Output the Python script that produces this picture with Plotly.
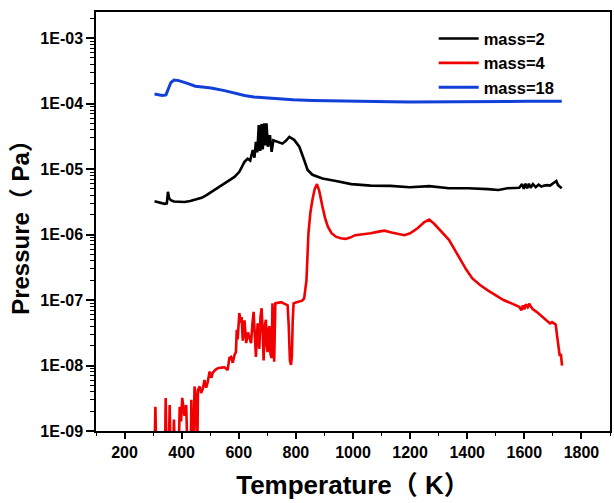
import plotly.graph_objects as go

# Temperature-programmed desorption: partial pressures vs. temperature
t_m2 = [305, 315, 326, 340, 348, 352, 356, 362, 373, 390, 410, 430, 448, 470, 487, 505,
        526, 545, 565, 585, 602, 612, 620, 631, 640, 649, 655, 660, 665, 670, 675, 680,
        684, 689, 693, 697, 702, 709, 715, 721, 736, 753, 765, 777, 794, 812, 829, 841,
        858, 893, 940, 994, 1062, 1131, 1199, 1267, 1336, 1404, 1472, 1509, 1541, 1582,
        1592, 1598, 1604, 1610, 1616, 1622, 1630, 1640, 1650, 1660, 1670, 1680, 1690,
        1704, 1712, 1718, 1731]
p_m2 = [3.24e-6, 3.15e-6, 3.05e-6, 2.95e-6, 3.0e-6, 4.5e-6, 3.6e-6, 3.35e-6, 3.2e-6,
        3.15e-6, 3.15e-6, 3.25e-6, 3.4e-6, 3.65e-6, 4.0e-6, 4.5e-6, 5.1e-6, 5.8e-6,
        6.7e-6, 7.6e-6, 9.1e-6, 1.1e-5, 1.29e-5, 1.44e-5, 1.35e-5, 1.95e-5, 1.5e-5,
        2.6e-5, 1.8e-5, 4.7e-5, 1.9e-5, 4.9e-5, 2.0e-5, 5.0e-5, 2.3e-5, 5.0e-5, 2.2e-5,
        3.3e-5, 1.84e-5, 2.75e-5, 2.6e-5, 2.45e-5, 2.7e-5, 3.1e-5, 2.8e-5, 2.2e-5,
        1.38e-5, 9.7e-6, 8.2e-6, 7.2e-6, 6.6e-6, 5.9e-6, 5.6e-6, 5.55e-6, 5.3e-6,
        5.5e-6, 5.1e-6, 5.1e-6, 4.95e-6, 4.8e-6, 5.1e-6, 5.2e-6, 5.9e-6, 5.0e-6, 6.0e-6,
        5.1e-6, 6.0e-6, 5.2e-6, 5.9e-6, 5.3e-6, 5.8e-6, 5.4e-6, 5.6e-6, 5.7e-6, 5.6e-6,
        6.2e-6, 6.6e-6, 5.7e-6, 5.1e-6]

t_m4 = [300, 305, 308, 311, 330, 342, 344, 347, 355, 358, 361, 370, 373, 376, 390, 393,
        398, 402, 410, 416, 420, 432, 434, 438, 442, 445, 450, 452, 455, 457, 463, 468,
        474, 480, 486, 491, 498, 504, 509, 518, 527, 540, 550, 561, 567, 573, 579, 585,
        590, 593, 596, 602, 607, 610, 614, 620, 626, 632, 638, 643, 648, 652, 656, 660,
        666, 672, 676, 680, 684, 687, 691, 695, 698, 701, 704, 707, 711, 715, 718, 721,
        724, 728, 738, 748, 759, 771, 775, 779, 783, 786, 789, 792, 800, 811, 822, 829,
        837, 844, 851, 858, 866, 874, 882, 892, 902, 912, 925, 940, 957, 974, 990, 1008,
        1030, 1062, 1085, 1110, 1135, 1158, 1180, 1200, 1226, 1250, 1267, 1285, 1310,
        1336, 1357, 1377, 1397, 1418, 1445, 1472, 1500, 1527, 1555, 1582, 1590, 1595,
        1600, 1605, 1612, 1618, 1622, 1630, 1643, 1660, 1677, 1690, 1697, 1704, 1710,
        1714, 1719, 1724, 1728, 1732]
p_m4 = [5e-10, 5e-10, 2.35e-9, 5e-10, 5e-10, 5e-10, 3.2e-9, 5e-10, 5e-10, 2.5e-9, 5e-10,
        5e-10, 1.5e-9, 5e-10, 5e-10, 2.35e-9, 1.4e-9, 3.2e-9, 1.7e-9, 2.5e-9, 5e-10,
        5e-10, 3e-9, 5e-10, 5e-10, 4.8e-9, 3e-9, 5e-10, 5e-10, 4.2e-9, 4.8e-9, 3.8e-9,
        4.4e-9, 6e-9, 4.6e-9, 5.5e-9, 8.1e-9, 6.5e-9, 7.8e-9, 8.6e-9, 9.1e-9, 9.3e-9,
        9.4e-9, 8.5e-9, 1.3e-8, 1.35e-8, 1.1e-8, 1.45e-8, 1.6e-8, 3.5e-8, 2.5e-8, 6.3e-8,
        4.5e-8, 5.5e-8, 2.4e-8, 4.9e-8, 2.2e-8, 3.2e-8, 2.5e-8, 2.2e-8, 4.5e-8, 6.6e-8,
        3.0e-8, 1.35e-8, 4.4e-8, 1.8e-8, 5.5e-8, 7.5e-8, 3.0e-8, 1.2e-8, 4.0e-8, 5.0e-8,
        2.0e-8, 1.6e-8, 3.5e-8, 4.0e-8, 1.5e-8, 1.3e-8, 8.9e-8, 3.0e-8, 1.14e-8, 8.9e-8,
        9.0e-8, 9.3e-8, 8.8e-8, 8.3e-8, 4.0e-8, 1.2e-8, 1.02e-8, 1.4e-8, 5.0e-8, 8.9e-8,
        9.2e-8, 9.4e-8, 9.8e-8, 1.06e-7, 2.0e-7, 1.05e-6, 2.2e-6, 3.4e-6, 5.0e-6, 5.9e-6,
        4.6e-6, 2.8e-6, 1.8e-6, 1.32e-6, 1.05e-6, 9.3e-7, 8.8e-7, 8.6e-7, 9.0e-7, 9.8e-7,
        1.0e-6, 1.05e-6, 1.1e-6, 1.15e-6, 1.08e-6, 1.02e-6, 9.8e-7, 1.05e-6, 1.25e-6,
        1.55e-6, 1.7e-6, 1.45e-6, 1.1e-6, 8.3e-7, 5.8e-7, 4.1e-7, 2.9e-7, 2.14e-7, 1.7e-7,
        1.41e-7, 1.18e-7, 1.0e-7, 8.9e-8, 7.9e-8, 7.0e-8, 8.3e-8, 7.2e-8, 8.6e-8, 7.8e-8,
        8.8e-8, 8.0e-8, 7.2e-8, 6.6e-8, 5.6e-8, 4.9e-8, 4.4e-8, 4.6e-8, 4.4e-8, 4.2e-8,
        3.0e-8, 2.0e-8, 1.4e-8, 1.5e-8, 1.0e-8]

t_m18 = [305, 320, 332, 345, 355, 362, 373, 390, 420, 448, 480, 503, 550, 585, 620, 653,
         721, 790, 858, 930, 994, 1060, 1131, 1200, 1267, 1340, 1404, 1470, 1540, 1610,
         1677, 1731]
p_m18 = [1.40e-4, 1.36e-4, 1.33e-4, 1.36e-4, 1.75e-4, 2.1e-4, 2.3e-4, 2.25e-4, 2.04e-4,
         1.85e-4, 1.78e-4, 1.74e-4, 1.58e-4, 1.44e-4, 1.33e-4, 1.26e-4, 1.20e-4, 1.15e-4,
         1.12e-4, 1.10e-4, 1.09e-4, 1.08e-4, 1.07e-4, 1.06e-4, 1.06e-4, 1.06e-4, 1.07e-4,
         1.07e-4, 1.08e-4, 1.09e-4, 1.10e-4, 1.09e-4]

x_ticks = [200, 400, 600, 800, 1000, 1200, 1400, 1600, 1800]
y_exps = [-9, -8, -7, -6, -5, -4, -3]

FONT = "Arial, Liberation Sans, Noto Sans CJK SC, sans-serif"

fig = go.Figure()
fig.add_trace(go.Scatter(x=t_m2, y=p_m2, mode="lines", name="mass=2",
                         line=dict(color="#000000", width=2.6)))
fig.add_trace(go.Scatter(x=t_m4, y=p_m4, mode="lines", name="mass=4",
                         line=dict(color="#f00000", width=2.6)))
fig.add_trace(go.Scatter(x=t_m18, y=p_m18, mode="lines", name="mass=18",
                         line=dict(color="#1040d8", width=3)))

minor_y = [m * 10.0 ** e for e in y_exps for m in range(2, 10)]

fig.update_layout(
    width=614, height=503,
    margin=dict(l=96, r=2, t=12, b=72),
    paper_bgcolor="white", plot_bgcolor="white",
    font=dict(family=FONT, color="black", size=16, weight="bold"),
    showlegend=True,
    legend=dict(x=0.657, y=0.978, xanchor="left", yanchor="top",
                bgcolor="rgba(0,0,0,0)", borderwidth=0, itemwidth=40,
                font=dict(size=16.5, family=FONT, weight="bold"),
                tracegroupgap=0),
    xaxis=dict(
        range=[100, 1900], tickmode="array", tickvals=x_ticks,
        ticktext=[str(v) for v in x_ticks],
        ticks="outside", ticklen=6, tickwidth=1.5, tickcolor="black",
        minor=dict(ticks="outside", ticklen=3, tickwidth=1.2, tickcolor="black",
                   tickmode="array", tickvals=[v + 100 for v in [0] + x_ticks]),
        showline=True, linewidth=1.5, linecolor="black", mirror=True,
        showgrid=False, zeroline=False,
        tickfont=dict(size=16, family=FONT, weight="bold"),
        title=dict(text="Temperature（ K）", standoff=16,
                   font=dict(size=26, family=FONT, weight="bold")),
    ),
    yaxis=dict(
        type="log", range=[-9, -2.6], tickmode="array",
        tickvals=[10.0 ** e for e in y_exps],
        ticktext=["1E-%02d" % (-e) for e in y_exps],
        ticks="outside", ticklen=8, tickwidth=1.5, tickcolor="black",
        minor=dict(ticks="outside", ticklen=4, tickwidth=1.0, tickcolor="black",
                   tickmode="array", tickvals=minor_y),
        showline=True, linewidth=1.5, linecolor="black", mirror=True,
        showgrid=False, zeroline=False,
        tickfont=dict(size=16, family=FONT, weight="bold"),
        title=dict(text="Pressure（ Pa）", standoff=4,
                   font=dict(size=24, family=FONT, weight="bold")),
    ),
)

fig.write_html("out.html")
